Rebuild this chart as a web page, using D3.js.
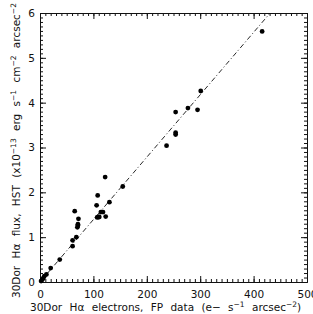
<!DOCTYPE html>
<html>
<head>
<meta charset="utf-8">
<script src="https://cdn.jsdelivr.net/npm/d3@7"></script>
<style>
  body { margin: 0; background: #fff; }
  svg text { font-family: "DejaVu Sans", sans-serif; fill: #111; }
</style>
</head>
<body>
<svg id="chart"></svg>
<script>
// Datos
const fpElectrons = [2, 4, 6, 8, 12, 20, 37, 61, 61, 68, 70, 71, 71, 72, 65,
  107, 109, 111, 114, 118, 123, 106, 108, 122, 130, 155,
  237, 254, 254, 254, 277, 295, 301, 416];
const hstFlux = [0.02, 0.05, 0.08, 0.13, 0.17, 0.31, 0.50, 0.80, 0.93, 1.0, 1.22, 1.26, 1.29, 1.41, 1.58,
  1.44, 1.45, 1.45, 1.56, 1.56, 1.46, 1.71, 1.93, 2.34, 1.78, 2.13,
  3.04, 3.29, 3.33, 3.79, 3.88, 3.84, 4.26, 5.59];
const fitSlope = 0.01392;
const xTicks = [0, 100, 200, 300, 400, 500];
const yTicks = [0, 1, 2, 3, 4, 5, 6];

const width = 313;
const height = 314;
const mLeft = 40, mRight = 307, mTop = 13, mBottom = 282;

const svg = d3.select('#chart')
    .attr('width', width)
    .attr('height', height);

const x = d3.scaleLinear().domain([0, 500]).range([mLeft, mRight]);
const y = d3.scaleLinear().domain([0, 6]).range([mBottom, mTop]);

const xMinor = d3.range(0, 501, 10);
const yMinor = d3.range(0, 61, 1).map(d => d / 10);

// Ejes con ticks hacia dentro
function styleAxis(g) {
    g.selectAll('path, line').attr('stroke', '#111').attr('stroke-width', 1);
    g.selectAll('text').attr('fill', '#111').attr('font-size', 10.5)
        .attr('font-family', '"DejaVu Sans", sans-serif');
}

svg.append('g').attr('transform', `translate(0,${mBottom})`)
    .call(d3.axisBottom(x).tickValues(xTicks).tickSize(-6).tickSizeOuter(0).tickPadding(9))
    .call(styleAxis);
svg.append('g').attr('transform', `translate(0,${mBottom})`)
    .call(d3.axisBottom(x).tickValues(xMinor).tickSize(-3).tickSizeOuter(0).tickFormat(''))
    .call(styleAxis);
svg.append('g').attr('transform', `translate(0,${mTop})`)
    .call(d3.axisTop(x).tickValues(xTicks).tickSize(-6).tickSizeOuter(0).tickFormat(''))
    .call(styleAxis);
svg.append('g').attr('transform', `translate(0,${mTop})`)
    .call(d3.axisTop(x).tickValues(xMinor).tickSize(-3).tickSizeOuter(0).tickFormat(''))
    .call(styleAxis);

svg.append('g').attr('transform', `translate(${mLeft},0)`)
    .call(d3.axisLeft(y).tickValues(yTicks).tickFormat(d3.format('d')).tickSize(-6).tickSizeOuter(0).tickPadding(5))
    .call(styleAxis);
svg.append('g').attr('transform', `translate(${mLeft},0)`)
    .call(d3.axisLeft(y).tickValues(yMinor).tickSize(-3).tickSizeOuter(0).tickFormat(''))
    .call(styleAxis);
svg.append('g').attr('transform', `translate(${mRight},0)`)
    .call(d3.axisRight(y).tickValues(yTicks).tickSize(-6).tickSizeOuter(0).tickFormat(''))
    .call(styleAxis);
svg.append('g').attr('transform', `translate(${mRight},0)`)
    .call(d3.axisRight(y).tickValues(yMinor).tickSize(-3).tickSizeOuter(0).tickFormat(''))
    .call(styleAxis);

// Recta de ajuste
const xEnd = 6 / fitSlope;
svg.append('line')
    .attr('x1', x(0)).attr('y1', y(0))
    .attr('x2', x(xEnd)).attr('y2', y(fitSlope * xEnd))
    .attr('stroke', '#111')
    .attr('stroke-width', 0.9)
    .attr('stroke-dasharray', '5,2.5,1,2.5');

// Puntos
svg.append('g')
    .selectAll('circle')
    .data(fpElectrons.map((d, i) => [d, hstFlux[i]]))
    .enter().append('circle')
    .attr('cx', d => x(d[0]))
    .attr('cy', d => y(d[1]))
    .attr('r', 2.4)
    .attr('fill', '#000');

// Etiquetas de los ejes
const xLabel = svg.append('text')
    .attr('x', 30).attr('y', 311)
    .attr('font-size', 10.5)
    .attr('word-spacing', 4);
xLabel.append('tspan').text('30Dor H\u03B1 electrons, FP data (e\u2212 s');
xLabel.append('tspan').attr('dy', -4).attr('font-size', 7.5).text('\u22121');
xLabel.append('tspan').attr('dy', 4).text(' arcsec');
xLabel.append('tspan').attr('dy', -4).attr('font-size', 7.5).text('\u22122');
xLabel.append('tspan').attr('dy', 4).text(')');

const yLabel = svg.append('text')
    .attr('transform', 'translate(20,298) rotate(-90)')
    .attr('font-size', 10.5)
    .attr('word-spacing', 4);
yLabel.append('tspan').text('30Dor H\u03B1 flux, HST (x10');
yLabel.append('tspan').attr('dy', -4).attr('font-size', 7.5).text('\u221213');
yLabel.append('tspan').attr('dy', 4).text(' erg s');
yLabel.append('tspan').attr('dy', -4).attr('font-size', 7.5).text('\u22121');
yLabel.append('tspan').attr('dy', 4).text(' cm');
yLabel.append('tspan').attr('dy', -4).attr('font-size', 7.5).text('\u22122');
yLabel.append('tspan').attr('dy', 4).text(' arcsec');
yLabel.append('tspan').attr('dy', -4).attr('font-size', 7.5).text('\u22122');
</script>
</body>
</html>
